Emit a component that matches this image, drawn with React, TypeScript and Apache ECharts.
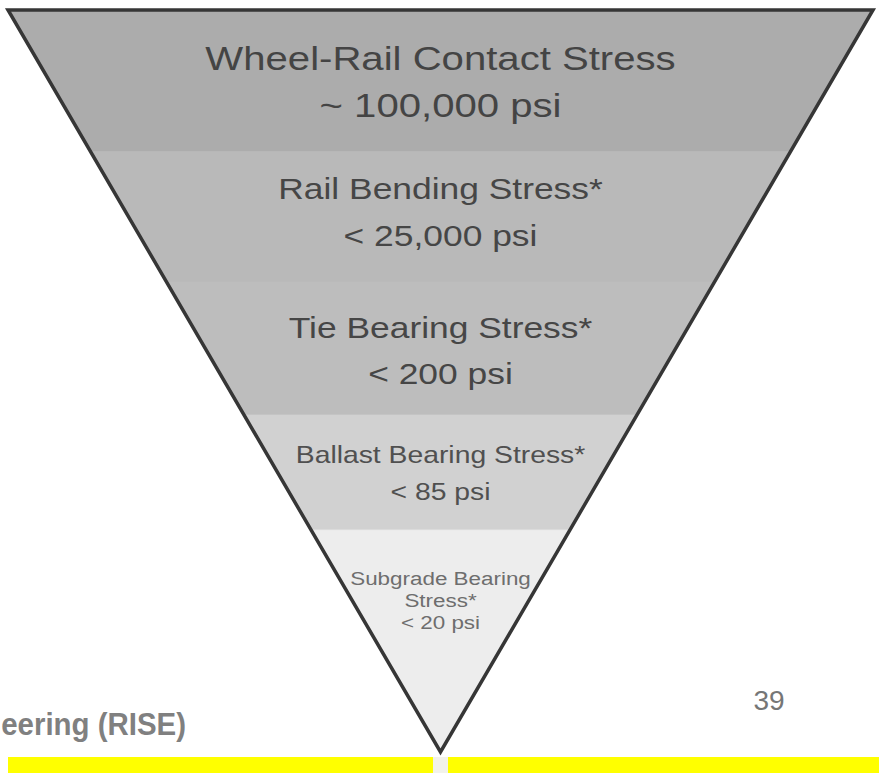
import React, { useEffect, useRef } from "react";
import * as echarts from "echarts";

// Layer depths (percent of the triangle's height, measured from the top edge)
const layerDepthTop = [0, 19.1, 36.7, 54.6, 70.1];
const layerDepthBottom = [19.1, 36.7, 54.6, 70.1, 100];
const layerLabels: string[][] = [
  ["Wheel-Rail Contact Stress", "~ 100,000 psi"],
  ["Rail Bending Stress*", "< 25,000 psi"],
  ["Tie Bearing Stress*", "< 200 psi"],
  ["Ballast Bearing Stress*", "< 85 psi"],
  ["Subgrade Bearing", "Stress*", "< 20 psi"],
];
const footerText = "eering (RISE)";
const pageNumber = "39";

// Styles
const layerFills = ["#acacac", "#b9b9b9", "#bdbdbd", "#d1d1d1", "#ededed"];
const layerTextColors = ["#444444", "#464646", "#464646", "#505050", "#6e6e6e"];
const layerFontSizes = [34, 30, 30, 24, 19];
const layerLineGaps = [47, 47, 46, 37, 22];
const layerLabelShift = [3, -2, 5, 5, -4];
const FONT = "'Liberation Sans', Arial, Helvetica, sans-serif";

const halfWidth = (d: number) => 1 - d / 100;

export default function App() {
  const ref = useRef<HTMLDivElement>(null);
  useEffect(() => {
    document.body.style.margin = "0";
    if (!ref.current) return;
    const chart = echarts.init(ref.current, undefined, { renderer: "svg" });
    const layerData = layerDepthTop.map((t, i) => [t, layerDepthBottom[i]]);
    chart.setOption({
      animation: false,
      backgroundColor: "#ffffff",
      grid: { left: 8, right: 6, top: 10, bottom: 21, containLabel: false },
      xAxis: { type: "value", min: -1, max: 1, show: false },
      yAxis: { type: "value", min: 0, max: 100, inverse: true, show: false },
      series: [
        {
          type: "custom",
          name: "layers",
          coordinateSystem: "cartesian2d",
          data: layerData,
          z: 2,
          renderItem: (params: any, api: any) => {
            const top = api.value(0);
            const bottom = api.value(1);
            const idx = params.dataIndex;
            const p0 = api.coord([-halfWidth(top), top]);
            const p1 = api.coord([halfWidth(top), top]);
            const p2 = api.coord([halfWidth(bottom), bottom]);
            const p3 = api.coord([-halfWidth(bottom), bottom]);
            const a = p1[0] - p0[0];
            const b = p2[0] - p3[0];
            const h = p3[1] - p0[1];
            const cy = p0[1] + ((h / 3) * (a + 2 * b)) / (a + b) + layerLabelShift[idx];
            const cx = (p0[0] + p1[0]) / 2;
            const lines = layerLabels[idx];
            const gap = layerLineGaps[idx];
            const children: any[] = [
              {
                type: "polygon",
                shape: { points: [p0, p1, p2, p3] },
                style: { fill: layerFills[idx], stroke: layerFills[idx], lineWidth: 1 },
              },
            ];
            lines.forEach((txt, i) => {
              children.push({
                type: "text",
                x: cx,
                y: cy + (i - (lines.length - 1) / 2) * gap,
                scaleX: 1.18,
                style: {
                  text: txt,
                  fill: layerTextColors[idx],
                  fontSize: layerFontSizes[idx],
                  fontFamily: FONT,
                  align: "center",
                  verticalAlign: "middle",
                },
              });
            });
            return { type: "group", children };
          },
        },
        {
          type: "custom",
          name: "outline",
          coordinateSystem: "cartesian2d",
          data: [[layerDepthTop[0], layerDepthBottom[layerDepthBottom.length - 1]]],
          z: 3,
          renderItem: (params: any, api: any) => {
            const top = api.value(0);
            const bottom = api.value(1);
            const p0 = api.coord([-halfWidth(top), top]);
            const p1 = api.coord([halfWidth(top), top]);
            const p2 = api.coord([halfWidth(bottom), bottom]);
            return {
              type: "polygon",
              shape: { points: [p0, p1, p2] },
              style: { fill: "none", stroke: "#363636", lineWidth: 3.5, lineJoin: "miter" },
            };
          },
        },
      ],
      graphic: [
        {
          type: "rect",
          shape: { x: 8, y: 757, width: 871, height: 16 },
          style: { fill: "#ffff00" },
          z: 1,
        },
        {
          type: "rect",
          shape: { x: 433, y: 757, width: 15, height: 16 },
          style: { fill: "#f2f2ea" },
          z: 1,
        },
        {
          type: "text",
          x: 186,
          y: 724,
          scaleX: 0.92,
          style: {
            text: footerText,
            fill: "#808080",
            fontSize: 32,
            fontWeight: "bold",
            fontFamily: FONT,
            align: "right",
            verticalAlign: "middle",
          },
          z: 5,
        },
        {
          type: "text",
          x: 769,
          y: 700,
          style: {
            text: pageNumber,
            fill: "#767676",
            fontSize: 28,
            fontFamily: FONT,
            align: "center",
            verticalAlign: "middle",
          },
          z: 5,
        },
      ],
    });
    return () => chart.dispose();
  }, []);
  return <div ref={ref} style={{ width: 879, height: 773 }} />;
}
